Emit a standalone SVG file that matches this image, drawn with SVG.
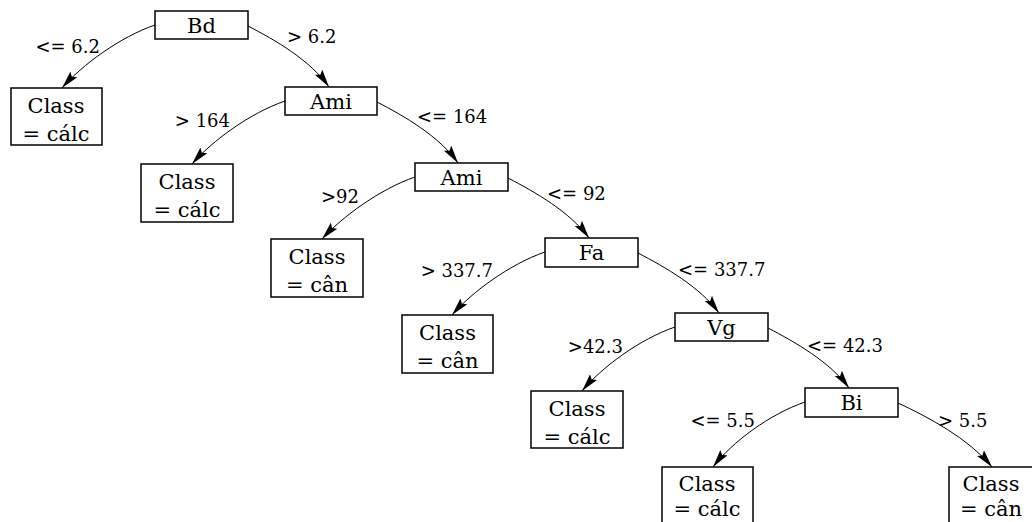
<svg xmlns="http://www.w3.org/2000/svg" width="1032" height="522" viewBox="0 0 1032 522">
<style>
.box{fill:#fff;stroke:#000;stroke-width:1.5}
.nt{font-family:"DejaVu Serif",serif;font-size:21px;fill:#000;text-anchor:middle}
.lb{font-family:"DejaVu Serif",serif;font-size:18px;fill:#000}
.e{fill:none;stroke:#000;stroke-width:1}
</style>
<defs>
<marker id="ah" markerUnits="userSpaceOnUse" markerWidth="20" markerHeight="10" refX="18" refY="4.5" orient="auto">
<path d="M0,0 L18,4.5 L0,9 L3,4.5 z" fill="#000"/>
</marker>
</defs>
<rect width="1032" height="522" fill="#fff"/>
<g id="connectors">
<path class="e" marker-end="url(#ah)" d="M155,25 C120,37 82,65 62,88"/>
<path class="e" marker-end="url(#ah)" d="M248,26 C275,40 310,60 329,87"/>
<path class="e" marker-end="url(#ah)" d="M285,101 C250,113 212,141 192,164"/>
<path class="e" marker-end="url(#ah)" d="M377,102 C404,116 439,136 458,163"/>
<path class="e" marker-end="url(#ah)" d="M415,177 C380,189 342,217 322,239"/>
<path class="e" marker-end="url(#ah)" d="M508,178 C535,192 570,212 589,238"/>
<path class="e" marker-end="url(#ah)" d="M545,252 C510,264 472,292 452,315"/>
<path class="e" marker-end="url(#ah)" d="M638,253 C665,267 700,287 719,313"/>
<path class="e" marker-end="url(#ah)" d="M675,327 C640,339 602,367 582,391"/>
<path class="e" marker-end="url(#ah)" d="M768,328 C795,342 830,362 849,388"/>
<path class="e" marker-end="url(#ah)" d="M805,402 C770,414 732,442 713,467"/>
<path class="e" marker-end="url(#ah)" d="M898,403 C928,417 968,438 992,467"/>
</g>
<g id="edge-labels">
<text class="lb" x="100" y="53" text-anchor="end">&lt;= 6.2</text>
<text class="lb" x="287" y="43">&gt; 6.2</text>
<text class="lb" x="230" y="127" text-anchor="end">&gt; 164</text>
<text class="lb" x="417" y="123">&lt;= 164</text>
<text class="lb" x="359" y="203" text-anchor="end">&gt;92</text>
<text class="lb" x="547" y="200">&lt;= 92</text>
<text class="lb" x="493" y="277" text-anchor="end">&gt; 337.7</text>
<text class="lb" x="678" y="276">&lt;= 337.7</text>
<text class="lb" x="623" y="353" text-anchor="end">&gt;42.3</text>
<text class="lb" x="807" y="352">&lt;= 42.3</text>
<text class="lb" x="755" y="427" text-anchor="end">&lt;= 5.5</text>
<text class="lb" x="938" y="427">&gt; 5.5</text>
</g>
<g id="n-bd"><rect class="box" x="155" y="11" width="93" height="28"/><text class="nt" x="201.5" y="33">Bd</text></g>
<g id="n-ami1"><rect class="box" x="285" y="87" width="92" height="28"/><text class="nt" x="331" y="109">Ami</text></g>
<g id="n-ami2"><rect class="box" x="415" y="163" width="93" height="28"/><text class="nt" x="461.5" y="185">Ami</text></g>
<g id="n-fa"><rect class="box" x="545" y="238" width="93" height="29"/><text class="nt" x="591.5" y="260">Fa</text></g>
<g id="n-vg"><rect class="box" x="675" y="313" width="93" height="28"/><text class="nt" x="721.5" y="335">Vg</text></g>
<g id="n-bi"><rect class="box" x="805" y="388" width="93" height="29"/><text class="nt" x="851.5" y="410">Bi</text></g>
<g id="leaf1"><rect class="box" x="11" y="88" width="91" height="57"/><text class="nt" x="56" y="113">Class</text><text class="nt" x="56" y="141">= cálc</text></g>
<g id="leaf2"><rect class="box" x="141" y="164" width="92" height="58"/><text class="nt" x="187" y="189">Class</text><text class="nt" x="187" y="217">= cálc</text></g>
<g id="leaf3"><rect class="box" x="271" y="239" width="92" height="58"/><text class="nt" x="317" y="264">Class</text><text class="nt" x="317" y="292">= cân</text></g>
<g id="leaf4"><rect class="box" x="402" y="315" width="91" height="58"/><text class="nt" x="447.5" y="340">Class</text><text class="nt" x="447.5" y="368">= cân</text></g>
<g id="leaf5"><rect class="box" x="531" y="391" width="92" height="57"/><text class="nt" x="577" y="416">Class</text><text class="nt" x="577" y="444">= cálc</text></g>
<g id="leaf6"><rect class="box" x="662" y="467" width="91" height="58"/><text class="nt" x="707" y="491">Class</text><text class="nt" x="707" y="516">= cálc</text></g>
<g id="leaf7"><rect class="box" x="949" y="467" width="91" height="58"/><text class="nt" x="991" y="491">Class</text><text class="nt" x="991" y="516">= cân</text></g>
</svg>
